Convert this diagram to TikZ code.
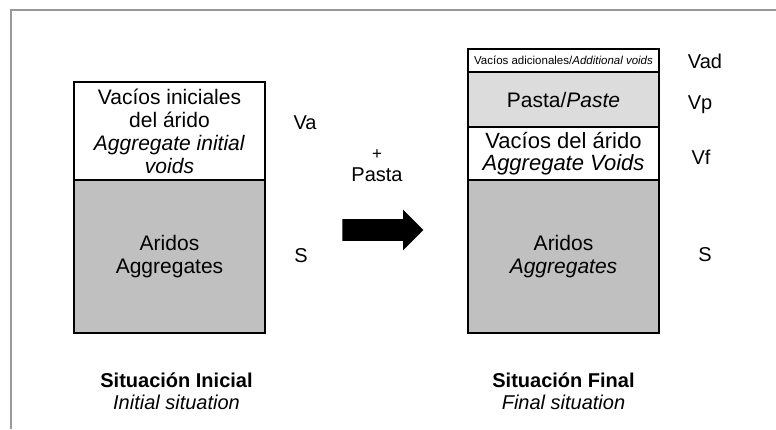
\documentclass[tikz,border=0pt]{standalone}
\usepackage{fontspec}
\setmainfont{Liberation Sans}
\usetikzlibrary{shapes,positioning}

\definecolor{aridos}{HTML}{C0C0C0}
\definecolor{pasta}{HTML}{DCDCDC}
\definecolor{marco}{HTML}{999999}

\begin{document}
\begin{tikzpicture}[x=1pt,y=-1pt,
node distance=0pt,
semithick]
\tikzstyle{layer}=[rectangle, draw=black, line width=1.2pt, fill=white,
 minimum width=191pt, inner sep=0pt, outer sep=0pt, align=center,
 font=\fontsize{21}{23}\selectfont]
\tikzstyle{tag}=[inner sep=0pt, font=\fontsize{20}{24}\selectfont]
\tikzstyle{caption}=[inner sep=0pt, align=center, font=\fontsize{20}{22}\selectfont]

\useasboundingbox (0,0) rectangle (776,429);

%frame
\draw[marco, line width=1.5pt] (11,429) -- (11,10) -- (776,10);

%initial situation
\node[layer, anchor=north west, minimum height=98pt] (Vi) at (74,82)
 {Vacíos iniciales\\ del árido\\ \textit{Aggregate initial}\\ \textit{voids}};
\node[layer, fill=aridos, minimum height=153pt, below=of Vi] (Ai)
 {Aridos\\ Aggregates};

\node[tag] (Va) at (305,123) {Va};
\node[tag] (Si) at (301,256) {S};

\node[caption, below=40pt of Ai, xshift=7pt] (Ci)
 {\textbf{Situación Inicial}\\ \textit{Initial situation}};

%arrow
\node[single arrow, fill=black, draw=none, inner xsep=0pt, inner ysep=10.5pt,
 minimum height=81pt, single arrow head extend=9.5pt]
 (arrow) at (377.5,230) {};
\node[tag] (Pasta) at (377,175) {Pasta};
\node[tag, font=\fontsize{17}{18}\selectfont, above=8pt of Pasta] (plus) {+};

%final situation
\node[layer, anchor=north west, minimum height=23pt,
 font=\fontsize{11.5}{13}\selectfont] (Vad) at (468,49)
 {Vacíos adicionales/\textit{Additional voids}};
\node[layer, fill=pasta, minimum height=55pt, below=of Vad] (Vp)
 {Pasta/\textit{Paste}};
\node[layer, minimum height=53pt, below=of Vp,
 font=\fontsize{22}{22}\selectfont] (Vf)
 {Vacíos del árido\\ \textit{Aggregate Voids}};
\node[layer, fill=aridos, minimum height=153pt, below=of Vf] (Af)
 {Aridos\\ \textit{Aggregates}};

\node[tag] (lVad) at (705,61) {Vad};
\node[tag] (lVp) at (700,105) {Vp};
\node[tag] (lVf) at (701,157) {Vf};
\node[tag] (Sf) at (705,255) {S};

\node[caption, below=40pt of Af] (Cf)
 {\textbf{Situación Final}\\ \textit{Final situation}};

\end{tikzpicture}
\end{document}
